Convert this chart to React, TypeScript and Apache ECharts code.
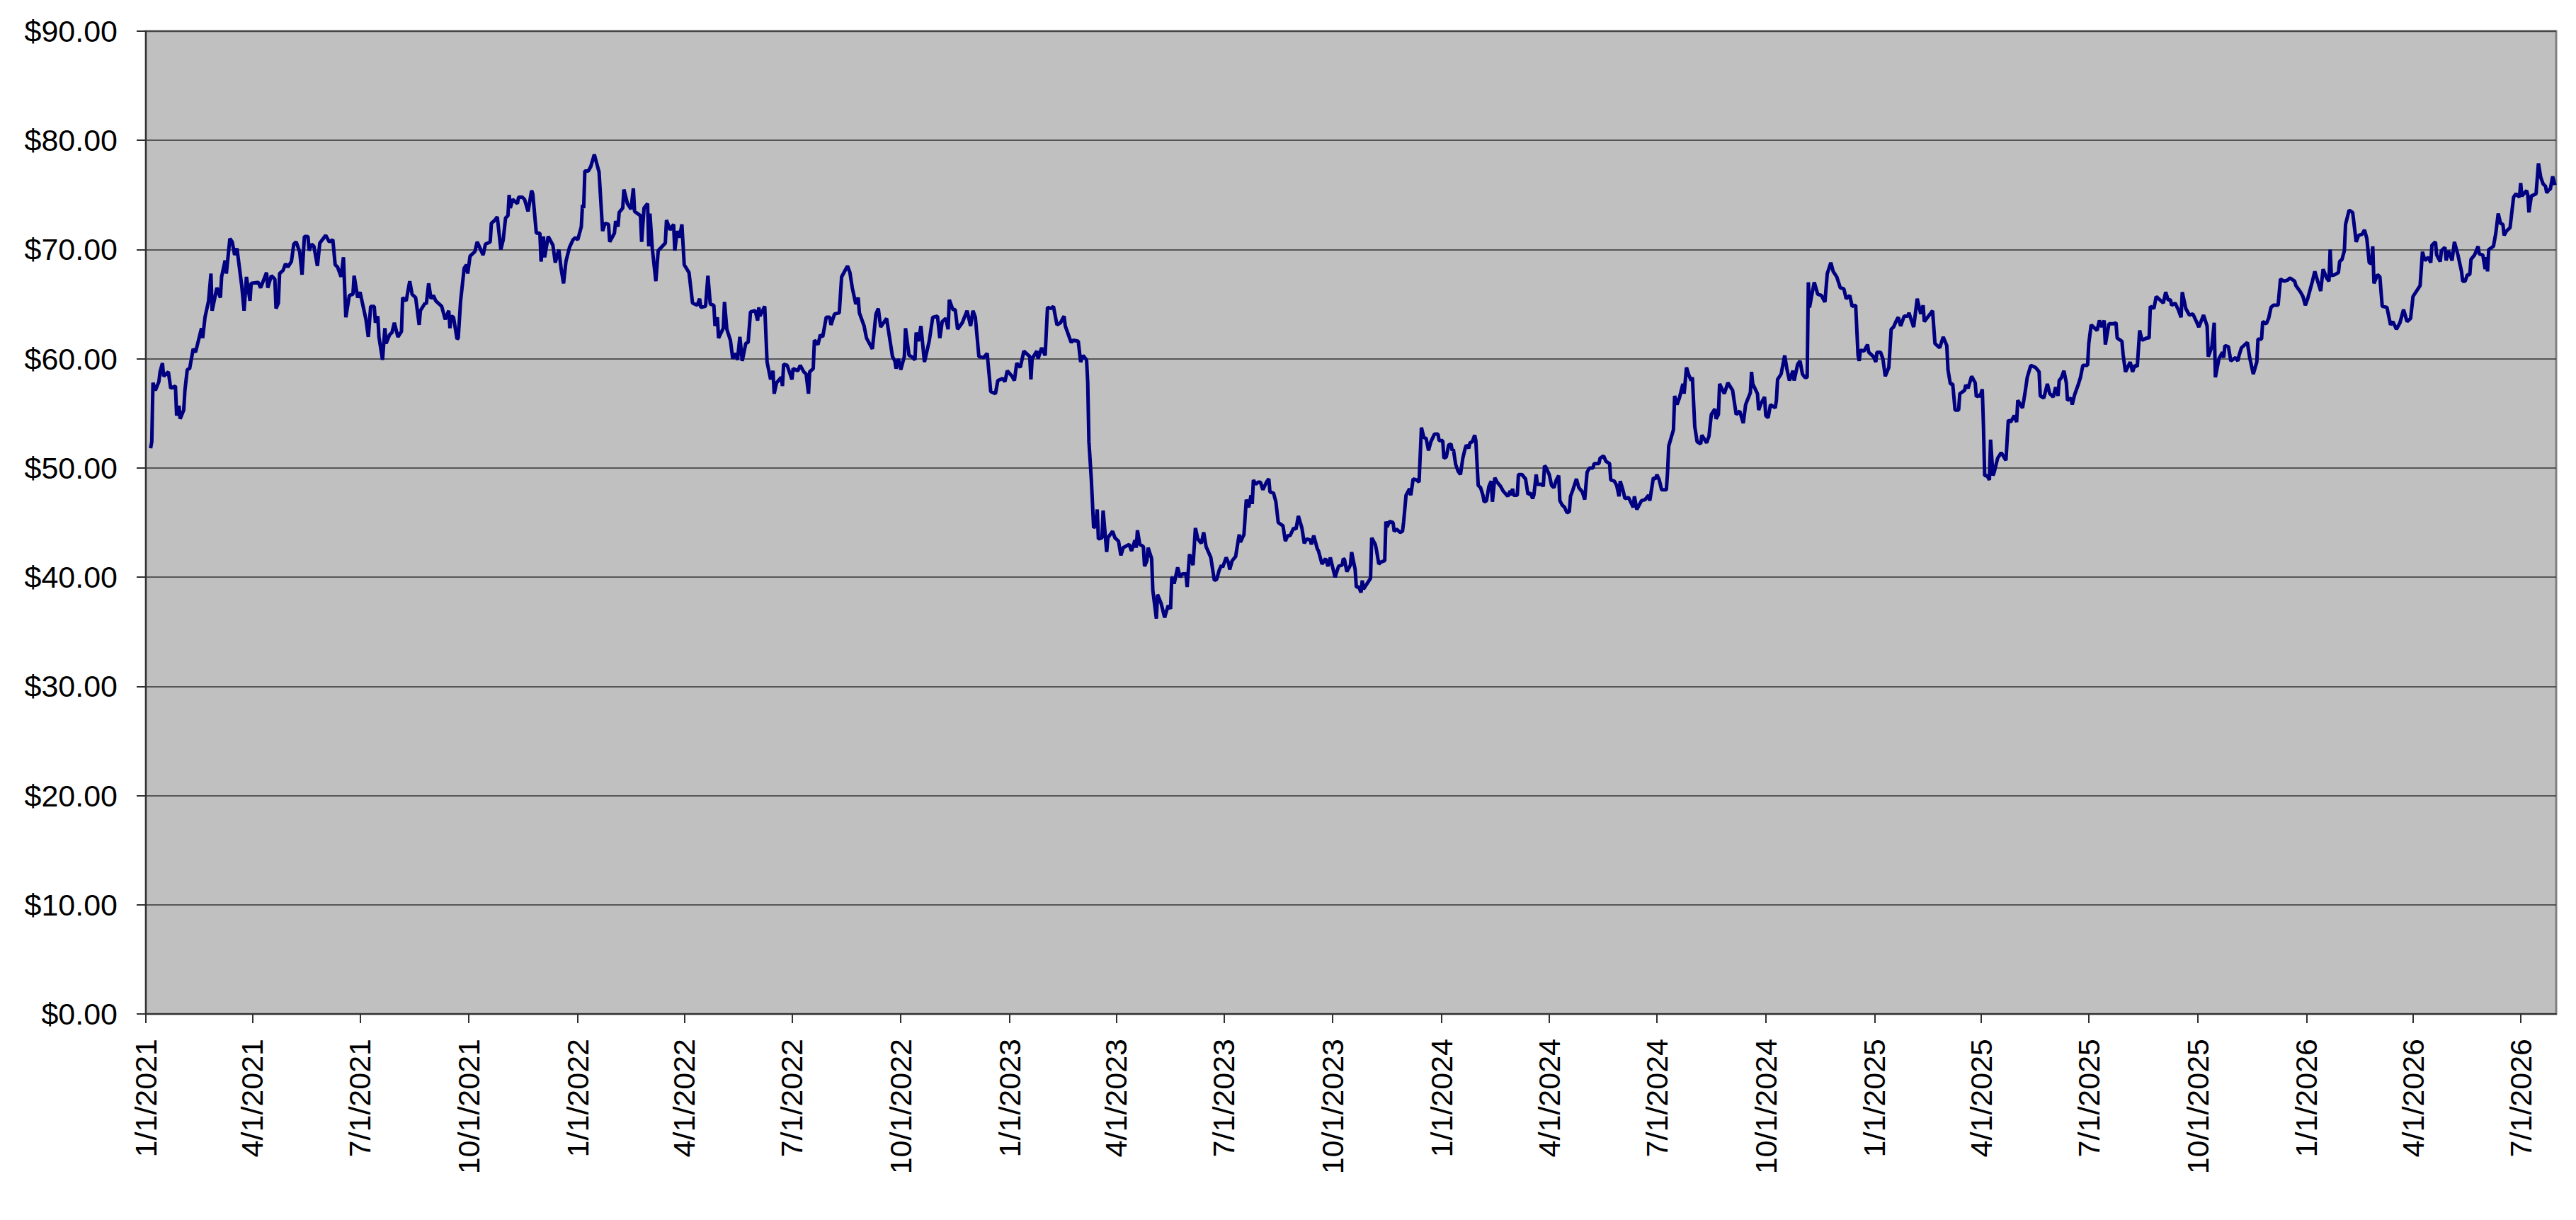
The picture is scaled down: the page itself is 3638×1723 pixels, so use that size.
import React, { useEffect, useRef } from "react";
import * as echarts from "echarts";

// Trading-day offsets (days since 1/1/2021) and closing prices.
const START_DATE = "2021-01-01";

const days2021 = [4, 5, 6, 8, 11, 12, 14, 15, 19, 21, 25, 26, 28, 29, 32, 33, 35, 37, 40, 42, 47, 48, 50, 53, 55, 56, 60, 63, 64, 67, 68, 71, 73, 75, 77, 81, 83, 85, 88, 89, 95, 97, 102, 103, 106, 109, 110, 112, 113, 116, 118, 120, 123, 125, 127, 130, 132, 134, 137, 138, 140, 142, 145, 147, 152, 155, 158, 160, 162, 165, 167, 169, 172, 175, 176, 179, 181, 186, 188, 190, 193, 194, 196, 197, 200, 202, 203, 206, 208, 210, 213, 216, 217, 220, 223, 225, 228, 231, 232, 236, 237, 239, 241, 243, 245, 250, 253, 256, 257, 258, 260, 263, 264, 266, 269, 271, 272, 274, 278, 280, 285, 287, 291, 292, 295, 297, 300, 302, 304, 306, 307, 308, 310, 314, 315, 318, 320, 323, 326, 327, 330, 333, 334, 336, 337, 340, 341, 344, 346, 349, 351, 353, 355, 358, 361, 363];
const prices2021 = [51.8, 52.4, 57.8, 57.1, 57.9, 58.8, 59.6, 58.4, 58.8, 57.3, 57.5, 54.8, 55.7, 54.5, 55.3, 57.1, 59.0, 59.1, 60.9, 60.6, 62.8, 61.9, 63.8, 65.3, 67.8, 64.4, 66.5, 65.6, 67.5, 69.0, 67.8, 71.0, 70.7, 69.5, 70.1, 66.7, 64.4, 67.5, 65.3, 66.9, 67.0, 66.5, 67.9, 66.5, 67.6, 67.3, 64.6, 65.1, 67.8, 68.1, 68.7, 68.4, 68.9, 70.5, 70.7, 69.8, 67.7, 71.2, 71.2, 69.9, 70.5, 70.3, 68.5, 70.6, 71.3, 70.7, 70.9, 68.6, 68.4, 67.5, 69.3, 63.8, 65.8, 65.9, 67.6, 65.6, 66.1, 63.6, 62.0, 64.8, 64.8, 63.3, 63.9, 62.0, 59.9, 62.8, 61.4, 62.2, 62.4, 63.3, 62.0, 62.5, 65.6, 65.3, 67.1, 65.9, 65.6, 63.1, 64.4, 65.1, 65.0, 66.9, 65.5, 65.8, 65.3, 64.8, 63.6, 64.4, 62.8, 63.9, 63.8, 61.8, 61.9, 65.3, 68.3, 68.6, 67.8, 69.4, 69.8, 70.7, 69.5, 70.5, 70.7, 72.4, 72.7, 73.0, 70.0, 70.9, 72.9, 73.1, 75.0, 73.8, 74.6, 74.2, 74.8, 74.8, 74.6, 73.5, 75.4, 75.1, 71.5, 71.5, 68.9, 71.2, 69.3, 71.2, 71.0, 70.4, 68.8, 70.0, 68.2, 66.9, 68.9, 70.2, 70.9, 71.1];

const days2022 = [365, 368, 369, 370, 371, 374, 376, 379, 381, 383, 386, 388, 391, 392, 396, 397, 399, 400, 403, 404, 407, 410, 412, 413, 418, 419, 421, 424, 425, 426, 428, 431, 433, 439, 440, 443, 446, 447, 449, 451, 453, 455, 459, 462, 466, 468, 469, 473, 475, 477, 480, 481, 483, 484, 488, 489, 491, 494, 496, 498, 500, 502, 504, 507, 509, 511, 515, 517, 518, 519, 523, 525, 528, 530, 531, 533, 537, 538, 539, 542, 546, 547, 551, 553, 556, 558, 560, 561, 564, 565, 568, 570, 572, 575, 578, 579, 582, 586, 588, 591, 593, 595, 597, 600, 602, 603, 607, 609, 614, 617, 619, 621, 626, 631, 633, 634, 636, 638, 641, 642, 645, 647, 650, 651, 653, 655, 658, 662, 665, 669, 671, 673, 676, 678, 679, 682, 684, 686, 690, 694, 697, 699, 701, 704, 708, 711, 714, 718, 720, 724, 726, 728];
const prices2022 = [70.9, 72.1, 74.1, 73.8, 77.2, 77.2, 77.6, 78.7, 77.9, 77.1, 71.7, 72.4, 72.3, 70.7, 71.5, 72.6, 72.1, 73.4, 73.8, 75.5, 74.2, 73.7, 75.6, 73.5, 73.1, 70.7, 73.8, 74.2, 70.3, 73.3, 70.1, 67.1, 69.9, 70.6, 72.7, 71.8, 72.3, 69.9, 71.7, 71.1, 72.3, 68.6, 67.9, 65.1, 64.9, 65.5, 64.7, 64.8, 67.6, 65.0, 64.9, 63.0, 63.8, 61.9, 62.8, 65.2, 62.7, 61.7, 60.0, 60.5, 59.9, 62.0, 59.8, 61.4, 61.5, 64.3, 64.4, 63.5, 64.7, 63.9, 64.8, 59.7, 58.1, 58.9, 56.8, 57.8, 58.3, 57.5, 59.5, 59.4, 58.1, 59.1, 58.9, 59.4, 58.8, 58.6, 56.8, 58.8, 59.1, 61.7, 61.3, 62.2, 62.0, 63.8, 63.8, 63.1, 64.1, 64.2, 67.5, 68.1, 68.5, 67.9, 66.5, 65.0, 65.6, 64.2, 63.0, 61.9, 60.9, 64.1, 64.6, 62.9, 63.7, 60.2, 59.8, 59.1, 60.0, 59.0, 60.2, 62.8, 60.3, 60.2, 59.9, 62.4, 61.6, 63.0, 59.7, 61.6, 63.8, 63.9, 61.9, 63.4, 63.7, 62.7, 65.4, 64.5, 64.5, 62.7, 63.3, 64.4, 63.0, 64.4, 63.8, 60.2, 60.1, 60.5, 57.0, 56.8, 58.0, 58.2, 57.9, 58.9];

const days2023 = [732, 734, 736, 739, 742, 747, 748, 749, 753, 754, 757, 760, 762, 765, 767, 770, 773, 776, 777, 782, 784, 788, 790, 792, 795, 796, 797, 799, 801, 803, 804, 805, 808, 809, 811, 812, 813, 817, 819, 822, 824, 826, 831, 833, 836, 837, 838, 840, 843, 844, 846, 847, 850, 851, 854, 855, 858, 861, 862, 864, 866, 867, 868, 869, 872, 874, 876, 879, 880, 882, 885, 887, 889, 892, 894, 896, 900, 903, 905, 907, 909, 910, 913, 915, 916, 918, 921, 924, 925, 928, 930, 932, 934, 935, 936, 938, 940, 942, 944, 947, 949, 950, 953, 955, 957, 961, 963, 965, 967, 970, 972, 974, 977, 979, 981, 984, 985, 987, 990, 991, 994, 997, 999, 1001, 1005, 1008, 1011, 1012, 1013, 1015, 1018, 1019, 1022, 1023, 1025, 1027, 1028, 1029, 1032, 1035, 1036, 1039, 1040, 1042, 1044, 1047, 1048, 1049, 1051, 1054, 1055, 1057, 1060, 1062, 1063, 1065, 1067, 1068, 1069, 1071, 1074, 1076, 1078, 1080, 1082, 1084, 1086, 1089, 1092, 1093];
const prices2023 = [58.4, 58.0, 59.6, 59.2, 60.7, 60.2, 58.1, 60.0, 60.7, 60.0, 61.0, 60.3, 64.7, 64.6, 64.8, 63.1, 63.3, 63.9, 63.0, 61.5, 61.7, 61.6, 59.7, 60.3, 59.9, 57.8, 52.4, 49.0, 44.5, 44.8, 46.2, 43.5, 43.6, 46.1, 43.6, 42.3, 43.6, 44.2, 43.6, 43.3, 42.0, 42.7, 43.0, 42.4, 43.4, 42.7, 44.3, 43.0, 42.8, 41.0, 41.5, 42.7, 41.7, 38.8, 36.2, 38.4, 37.6, 36.3, 36.7, 37.4, 37.1, 39.9, 40.0, 39.4, 40.9, 40.0, 40.3, 40.3, 39.1, 42.1, 41.1, 44.5, 43.5, 43.1, 44.1, 42.8, 41.8, 39.7, 39.8, 40.6, 41.1, 40.9, 41.8, 41.3, 40.7, 41.5, 41.9, 43.9, 43.2, 43.9, 47.1, 46.4, 47.5, 46.7, 48.9, 48.5, 48.7, 48.7, 48.0, 48.7, 49.0, 47.8, 47.7, 46.9, 45.0, 44.7, 43.3, 43.8, 43.8, 44.5, 44.4, 45.6, 44.5, 43.1, 43.5, 43.4, 43.0, 43.8, 42.6, 42.4, 41.2, 41.7, 41.0, 41.8, 40.0, 41.0, 41.1, 41.7, 41.6, 40.5, 41.1, 42.3, 40.7, 39.1, 39.1, 38.6, 39.7, 38.9, 39.4, 39.9, 43.6, 43.0, 42.5, 41.2, 41.4, 41.5, 45.1, 44.6, 45.1, 45.0, 44.2, 44.4, 44.1, 44.2, 45.1, 47.5, 47.9, 48.1, 47.5, 49.0, 48.9, 48.7, 53.7, 52.8, 52.7, 51.6, 52.4, 53.1, 53.1, 52.5];

const days2024 = [1096, 1097, 1099, 1101, 1103, 1104, 1105, 1107, 1109, 1111, 1113, 1115, 1116, 1118, 1119, 1121, 1123, 1124, 1126, 1128, 1130, 1131, 1133, 1135, 1137, 1138, 1140, 1142, 1145, 1147, 1151, 1153, 1154, 1155, 1156, 1159, 1160, 1163, 1166, 1168, 1170, 1172, 1173, 1175, 1176, 1180, 1181, 1182, 1183, 1186, 1188, 1190, 1192, 1194, 1195, 1197, 1199, 1201, 1203, 1204, 1206, 1209, 1211, 1214, 1216, 1218, 1220, 1223, 1224, 1228, 1229, 1232, 1234, 1237, 1238, 1241, 1243, 1245, 1246, 1248, 1250, 1253, 1257, 1258, 1260, 1264, 1267, 1270, 1271, 1274, 1276, 1277, 1279, 1281, 1285, 1286, 1287, 1291, 1292, 1294, 1296, 1299, 1300, 1302, 1304, 1306, 1307, 1309, 1311, 1314, 1315, 1319, 1321, 1323, 1326, 1327, 1329, 1330, 1334, 1337, 1341, 1344, 1347, 1350, 1352, 1356, 1357, 1358, 1362, 1363, 1365, 1368, 1369, 1371, 1373, 1377, 1378, 1379, 1382, 1385, 1387, 1389, 1392, 1393, 1396, 1398, 1400, 1402, 1404, 1405, 1406, 1408, 1410, 1413, 1416, 1419, 1421, 1424, 1426, 1429, 1432, 1435, 1437, 1440, 1442, 1445, 1447, 1448, 1449, 1452, 1455, 1456, 1460];
const prices2024 = [52.5, 50.9, 51.0, 52.1, 52.2, 51.6, 51.7, 50.3, 49.7, 49.4, 50.9, 51.8, 52.1, 51.8, 52.3, 52.4, 53.0, 52.5, 48.4, 48.2, 47.5, 46.9, 47.0, 48.3, 48.8, 46.9, 49.1, 48.7, 48.3, 47.9, 47.4, 47.9, 47.5, 48.1, 47.5, 47.5, 49.4, 49.4, 49.0, 47.6, 47.7, 47.2, 47.5, 49.4, 48.5, 48.5, 48.3, 50.2, 50.1, 49.4, 48.4, 48.2, 48.9, 49.3, 47.0, 46.6, 46.4, 45.9, 46.0, 47.4, 48.0, 49.0, 48.2, 47.8, 47.1, 49.6, 50.0, 50.0, 50.4, 50.4, 50.9, 51.1, 50.6, 50.4, 48.9, 48.8, 48.4, 47.4, 48.8, 48.1, 47.2, 47.3, 46.4, 47.4, 46.2, 47.0, 47.1, 47.5, 47.0, 49.1, 49.0, 49.4, 48.9, 48.0, 48.0, 49.6, 52.0, 53.5, 56.6, 55.8, 56.4, 57.7, 56.8, 59.2, 58.5, 58.0, 58.3, 53.8, 52.4, 52.2, 53.0, 52.3, 52.9, 54.9, 55.4, 54.5, 54.9, 57.7, 56.8, 57.8, 57.1, 54.9, 55.2, 54.1, 55.8, 56.9, 58.8, 57.7, 56.8, 55.3, 55.9, 56.5, 54.8, 54.6, 55.8, 55.5, 56.2, 58.1, 58.6, 60.3, 59.0, 58.0, 58.9, 58.0, 59.5, 59.8, 58.6, 58.3, 58.3, 67.0, 64.7, 65.9, 67.0, 65.9, 65.8, 65.2, 67.8, 68.8, 68.0, 67.5, 66.5, 66.4, 65.5, 65.8, 64.8, 64.9, 60.3, 59.8, 60.8, 60.7, 61.3, 60.6, 60.2];

const days2025 = [1462, 1463, 1466, 1468, 1470, 1473, 1475, 1477, 1479, 1481, 1483, 1486, 1489, 1490, 1494, 1497, 1500, 1502, 1503, 1510, 1512, 1516, 1519, 1522, 1523, 1525, 1527, 1529, 1532, 1533, 1537, 1538, 1540, 1543, 1546, 1547, 1549, 1550, 1552, 1553, 1554, 1556, 1558, 1559, 1561, 1562, 1565, 1568, 1572, 1574, 1576, 1579, 1581, 1582, 1586, 1588, 1590, 1593, 1597, 1600, 1601, 1604, 1607, 1609, 1612, 1614, 1616, 1617, 1619, 1621, 1623, 1624, 1627, 1628, 1630, 1633, 1635, 1637, 1641, 1642, 1644, 1649, 1651, 1653, 1655, 1656, 1659, 1663, 1665, 1666, 1670, 1671, 1673, 1677, 1679, 1681, 1683, 1685, 1687, 1691, 1693, 1694, 1697, 1699, 1705, 1707, 1709, 1711, 1712, 1715, 1718, 1720, 1721, 1724, 1727, 1730, 1733, 1735, 1739, 1742, 1743, 1746, 1748, 1749, 1752, 1755, 1756, 1757, 1760, 1762, 1766, 1768, 1769, 1771, 1776, 1778, 1781, 1784, 1785, 1788, 1789, 1792, 1794, 1796, 1798, 1802, 1804, 1807, 1810, 1812, 1816, 1817, 1821, 1823, 1825];
const prices2025 = [59.7, 60.6, 60.6, 60.0, 58.4, 59.2, 62.7, 62.9, 63.4, 63.8, 63.0, 63.9, 63.9, 64.2, 62.9, 65.5, 64.1, 64.9, 63.4, 64.4, 61.4, 61.0, 62.0, 61.2, 59.0, 57.7, 57.7, 55.3, 55.3, 56.8, 57.1, 57.6, 57.3, 58.4, 57.8, 56.5, 56.7, 56.5, 57.2, 53.8, 49.3, 49.3, 48.9, 52.6, 49.3, 49.6, 50.9, 51.4, 50.7, 54.4, 54.2, 54.8, 54.2, 56.2, 55.5, 56.8, 58.3, 59.4, 59.2, 58.8, 56.6, 56.4, 57.7, 56.8, 56.5, 57.4, 56.6, 58.0, 58.3, 58.9, 57.8, 56.2, 56.4, 55.8, 56.7, 57.6, 58.3, 59.4, 59.4, 61.4, 63.1, 62.6, 63.5, 62.9, 63.5, 61.3, 63.2, 63.2, 63.3, 61.9, 61.6, 60.4, 58.8, 59.7, 58.8, 59.4, 59.3, 62.6, 61.7, 61.9, 61.9, 64.8, 64.6, 65.7, 65.1, 66.1, 65.4, 65.4, 64.9, 65.1, 64.4, 63.8, 66.1, 64.6, 64.0, 64.1, 63.4, 62.9, 64.0, 63.0, 60.2, 61.1, 63.3, 58.3, 60.0, 60.6, 60.1, 61.2, 61.1, 59.8, 60.1, 59.8, 60.3, 61.0, 61.5, 60.1, 58.6, 59.7, 61.8, 61.8, 63.4, 63.2, 63.7, 64.7, 64.9, 64.9, 67.3, 67.1, 67.2, 67.4, 67.1, 66.7, 66.1, 65.7, 64.9];

const days2026 = [1827, 1831, 1833, 1836, 1838, 1840, 1843, 1845, 1846, 1847, 1850, 1853, 1854, 1856, 1858, 1859, 1862, 1865, 1868, 1870, 1873, 1875, 1877, 1879, 1881, 1882, 1883, 1886, 1888, 1890, 1894, 1897, 1899, 1902, 1905, 1908, 1911, 1914, 1916, 1922, 1924, 1926, 1929, 1931, 1932, 1935, 1936, 1939, 1940, 1943, 1944, 1946, 1949, 1951, 1954, 1957, 1958, 1960, 1962, 1964, 1965, 1968, 1971, 1972, 1975, 1977, 1978, 1979, 1980, 1984, 1986, 1988, 1990, 1992, 1993, 1995, 1998, 2001, 2003, 2006, 2007, 2008, 2012, 2013, 2014, 2016, 2020, 2022, 2024, 2026, 2028, 2029, 2031, 2032, 2034, 2036];
const prices2026 = [65.5, 67.1, 68.0, 66.9, 66.2, 68.2, 67.4, 67.1, 70.0, 67.6, 67.7, 67.9, 68.9, 69.1, 69.9, 72.3, 73.6, 73.4, 70.7, 71.3, 71.4, 71.8, 71.0, 68.8, 68.7, 70.3, 66.9, 67.7, 67.5, 64.8, 64.7, 63.1, 63.4, 62.7, 63.3, 64.5, 63.4, 63.7, 65.7, 66.7, 69.8, 69.0, 69.3, 68.8, 70.4, 70.7, 69.5, 68.9, 69.9, 70.2, 69.0, 69.9, 69.0, 70.7, 69.5, 68.0, 67.1, 67.1, 67.7, 67.7, 69.1, 69.5, 70.3, 69.6, 69.5, 68.2, 69.3, 68.0, 70.0, 70.3, 71.5, 73.3, 72.4, 72.3, 71.3, 71.7, 72.0, 74.8, 75.1, 74.8, 76.1, 74.9, 75.4, 75.0, 73.4, 74.9, 75.1, 77.9, 76.6, 76.0, 75.8, 75.2, 75.5, 75.5, 76.7, 75.9];

const X_AXIS_END_DAY = 2037;

const tickLabels = [
  "1/1/2021", "4/1/2021", "7/1/2021", "10/1/2021",
  "1/1/2022", "4/1/2022", "7/1/2022", "10/1/2022",
  "1/1/2023", "4/1/2023", "7/1/2023", "10/1/2023",
  "1/1/2024", "4/1/2024", "7/1/2024", "10/1/2024",
  "1/1/2025", "4/1/2025", "7/1/2025", "10/1/2025",
  "1/1/2026", "4/1/2026", "7/1/2026",
];

const Y_MIN = 0;
const Y_MAX = 90;
const Y_STEP = 10;

const DAY_MS = 86400000;

function parseMDY(s: string): number {
  const [m, d, y] = s.split("/").map(Number);
  return Date.UTC(y, m - 1, d);
}

function fmtMDY(ts: number): string {
  const dt = new Date(Math.round(ts / DAY_MS) * DAY_MS);
  return `${dt.getUTCMonth() + 1}/${dt.getUTCDate()}/${dt.getUTCFullYear()}`;
}

export default function App() {
  const ref = useRef<HTMLDivElement>(null);

  useEffect(() => {
    if (!ref.current) return;
    const chart = echarts.init(ref.current, undefined, { renderer: "svg" });
    const startTs = Date.parse(START_DATE + "T00:00:00Z");
    const allDays = [...days2021, ...days2022, ...days2023, ...days2024, ...days2025, ...days2026];
    const allPrices = [...prices2021, ...prices2022, ...prices2023, ...prices2024, ...prices2025, ...prices2026];
    const data = allDays.map((d, i) => [startTs + d * DAY_MS, allPrices[i]]);
    const tickValues = tickLabels.map(parseMDY);
    const font = "'Liberation Sans', Arial, sans-serif";

    chart.setOption({
      animation: false,
      backgroundColor: "#ffffff",
      grid: {
        left: 206,
        right: 28,
        top: 44,
        bottom: 291,
        show: true,
        backgroundColor: "#C0C0C0",
        borderColor: "#808080",
        borderWidth: 3,
      },
      xAxis: {
        type: "value",
        min: startTs,
        max: startTs + X_AXIS_END_DAY * DAY_MS,
        axisLine: { show: true, lineStyle: { color: "#303030", width: 2 } },
        axisTick: {
          show: true,
          length: 13,
          customValues: tickValues,
          lineStyle: { color: "#303030", width: 2 },
        },
        axisLabel: {
          show: true,
          customValues: tickValues,
          rotate: 90,
          margin: 35,
          hideOverlap: false,
          fontSize: 43,
          fontFamily: font,
          color: "#000000",
          formatter: (v: number) => fmtMDY(v),
        },
        splitLine: { show: false },
        minorTick: { show: false },
      },
      yAxis: {
        type: "value",
        min: Y_MIN,
        max: Y_MAX,
        interval: Y_STEP,
        axisLine: { show: true, lineStyle: { color: "#303030", width: 2 } },
        axisTick: { show: true, length: 13, lineStyle: { color: "#303030", width: 2 } },
        axisLabel: {
          margin: 40,
          fontSize: 43,
          fontFamily: font,
          color: "#000000",
          formatter: (v: number) => "$" + v.toFixed(2),
        },
        splitLine: { show: true, lineStyle: { color: "#333333", width: 1.6 } },
      },
      series: [
        {
          type: "line",
          data,
          showSymbol: false,
          symbol: "none",
          lineStyle: { color: "#000080", width: 5 },
          z: 3,
        },
      ],
    });

    return () => chart.dispose();
  }, []);

  return (
    <div
      ref={ref}
      style={{ position: "absolute", left: 0, top: 0, width: "3638px", height: "1723px" }}
    />
  );
}
